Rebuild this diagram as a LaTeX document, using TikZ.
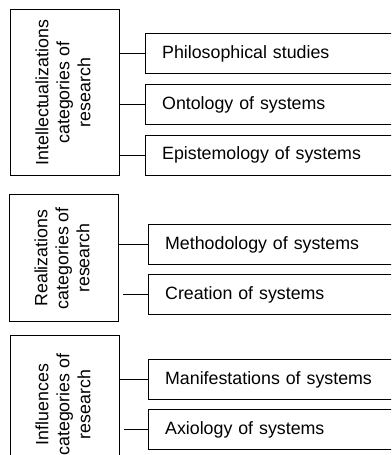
\documentclass[tikz,border=0pt]{standalone}
\usepackage{fontspec}
\setmainfont{Liberation Sans}
\usepackage{tikz}
\usetikzlibrary{positioning}
\tikzset{
 catbox/.style={rectangle, draw=black, line width=1.3pt, anchor=north west,
 minimum width=109pt, align=center, inner sep=0pt,
 font=\fontsize{17.8}{21}\selectfont},
 itembox/.style={rectangle, draw=black, line width=1.3pt, anchor=north west,
 minimum height=40pt, text width=226pt, inner xsep=16.5pt, inner ysep=0pt,
 align=left, font=\fontsize{17.8}{21}\selectfont},
 link/.style={draw=black, line width=1.3pt},
}

\begin{document}
\begin{tikzpicture}[x=1pt, y=-1pt, node distance=8.5pt]
 \useasboundingbox (0,0) rectangle (391,455);
 \clip (0,0) rectangle (391,455);
 % category boxes
 \node[catbox, minimum height=166pt] (intel) at (10,9)
 {\rotatebox{90}{\begin{tabular}{@{}c@{}}Intellectualizations\\categories of\\research\end{tabular}}};
 \node[catbox, minimum height=127pt] (real) at (9,194)
 {\rotatebox{90}{\begin{tabular}{@{}c@{}}Realizations\\categories of\\research\end{tabular}}};
 \node[catbox, minimum height=138pt] (infl) at (10,335)
 {\rotatebox{90}{\begin{tabular}{@{}c@{}}Influences\\categories of\\research\end{tabular}}};
 % research items
 \node[itembox] (phil) at (145,33) {Philosophical studies};
 \node[itembox, below=9.5pt of phil.south west, anchor=north west] (onto) {Ontology of systems};
 \node[itembox, below=9.5pt of onto.south west, anchor=north west] (epis) {Epistemology of systems};
 \node[itembox] (meth) at (148,224) {Methodology of systems};
 \node[itembox, below=of meth.south west, anchor=north west] (crea) {Creation of systems};
 \node[itembox] (mani) at (148,359) {Manifestations of systems};
 \node[itembox, below=of mani.south west, anchor=north west] (axio) {Axiology of systems};

 \draw[link] (intel.east |- phil) -- (phil.west);
 \draw[link] (intel.east |- onto) -- (onto.west);
 \draw[link] (intel.east |- epis) -- (epis.west);
 \draw[link] (real.east |- meth) -- (meth.west);
 \draw[link, shorten <=4pt] (real.east |- crea) -- (crea.west);
 \draw[link] (infl.east |- mani) -- (mani.west);
 \draw[link, shorten <=4pt] (infl.east |- axio) -- (axio.west);
\end{tikzpicture}
\end{document}
